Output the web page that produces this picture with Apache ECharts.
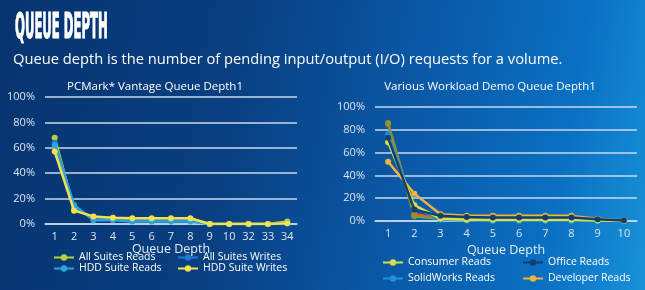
<!DOCTYPE html>
<html><head><meta charset="utf-8">
<script src="https://cdn.jsdelivr.net/npm/echarts@6/dist/echarts.min.js"></script>
<style>
html,body{margin:0;padding:0;}
body{width:645px;height:290px;overflow:hidden;background:linear-gradient(100deg,#073470 0%,#093f80 35%,#0a58a6 62%,#0a70c2 85%,#1892d8 100%);}
#c{width:645px;height:290px;}
</style></head>
<body><div id="c"></div>
<script>
// ---- data ----
const leftCategories = ['1','2','3','4','5','6','7','8','9','10','32','33','34'];
const allSuitesReads  = [68, 12, 5, 4.5, 4, 4, 4, 4, 0, 0, 0, 0, 2];
const allSuitesWrites = [64, 14, 4, 3.5, 3, 3, 3, 3, 0, 0, 0, 0, 0.5];
const hddSuiteReads   = [62, 15, 3, 3, 2, 2, 2, 2, 0, 0, 0, 0, 0.5];
const hddSuiteWrites  = [57, 10.5, 6, 5, 4.5, 4.5, 4.5, 4.5, 0, 0, 0, 0, 0.5];

const rightCategories = ['1','2','3','4','5','6','7','8','9','10'];
const consumerReads   = [69, 14, 2, 1, 1, 1, 1, 1, 0.5, 0];
const officeReads     = [73, 10, 4.5, 3.5, 3, 3, 3, 3, 1.5, 0.5];
const solidWorksReads = [76, 12, 1, 0.5, 0, 0, 0, 0, 0, 0];
const developerReads  = [52, 24, 6, 4.5, 4.5, 4.5, 4.5, 4.5, 2, 0.5];
const otherReadsA     = [86, 4, 2, 2, 2, 2, 2, 2, 1, 0.5];
const otherReadsB     = [85, 6, 2, 1.5, 1.5, 1.5, 1.5, 1.5, 1, 0.5];

const yTicks = [0, 20, 40, 60, 80, 100];

// ---- chart ----
const chart = echarts.init(document.getElementById('c'), null, {renderer:'canvas'});
const axisLabelColor = '#dbe6f3';
const gridLineColor = '#c9d9ee';
function yAxis(idx){
  return {gridIndex:idx, type:'value', min:yTicks[0], max:yTicks[yTicks.length-1], interval:20,
    axisLine:{show:false}, axisTick:{show:false},
    splitLine:{lineStyle:{color:gridLineColor, width:1.5}},
    axisLabel:{color:axisLabelColor, fontSize:11, fontFamily:'Open Sans', formatter:'{value}%', margin:10}};
}
function xAxis(idx, cats, gap){
  return {gridIndex:idx, type:'category', data:cats, boundaryGap:true,
    axisLine:{lineStyle:{color:gridLineColor, width:1.5}}, axisTick:{show:false},
    axisLabel:{color:axisLabelColor, fontSize:11, fontFamily:'Open Sans', margin:7},
    name:'Queue Depth', nameLocation:'middle', nameGap:gap,
    nameTextStyle:{color:'#e6eef8', fontSize:12.5, fontFamily:'Open Sans'}};
}
function line(name, data, color, xi, z){
  return {name, type:'line', data, xAxisIndex:xi, yAxisIndex:xi, color,
    symbol:'circle', symbolSize:6, lineStyle:{width:2.5, color}, itemStyle:{color},
    z: z||2, animation:false};
}
const legendText = {color:'#ffffff', fontSize:10.5, fontFamily:'Open Sans'};
function legend(left, top, gap, items){
  return {orient:'vertical', left, top, padding:0, itemGap:gap, itemWidth:20, itemHeight:8,
    height:40, textStyle:legendText, data:items};
}
chart.setOption({
  backgroundColor:'transparent',
  animation:false,
  graphic:[
    {type:'text', x:15, y:11, scaleX:0.36, scaleY:1.0, style:{x:0, y:0, text:'QUEUE DEPTH', fill:'#ffffff',
      stroke:'#ffffff', lineWidth:1.2,
      font:'bold 36px "DejaVu Sans Condensed"', textVerticalAlign:'top'}},
    {type:'text', x:13, y:60, style:{text:'Queue depth is the number of pending input/output (I/O) requests for a volume.',
      fill:'#ffffff', font:'14.7px "Open Sans"', textVerticalAlign:'middle'}}
  ],
  title:[
    {text:'PCMark* Vantage Queue Depth1', left:155, top:81, padding:0, textAlign:'center',
      textStyle:{color:'#ffffff', fontSize:11.5, fontWeight:'normal', fontFamily:'Open Sans'}},
    {text:'Various Workload Demo Queue Depth1', left:490, top:81, padding:0, textAlign:'center',
      textStyle:{color:'#ffffff', fontSize:11.5, fontWeight:'normal', fontFamily:'Open Sans'}}
  ],
  grid:[
    {left:45, right:348, top:97, bottom:66},
    {left:375, right:8, top:107, bottom:69}
  ],
  xAxis:[xAxis(0, leftCategories, 18), xAxis(1, rightCategories, 23)],
  yAxis:[yAxis(0), yAxis(1)],
  legend:[
    legend(53, 252, 0, ['All Suites Reads','HDD Suite Reads']),
    legend(177, 252, 0, ['All Suites Writes','HDD Suite Writes']),
    legend(382, 257, 5, ['Consumer Reads','SolidWorks Reads']),
    legend(522, 257, 5, ['Office Reads','Developer Reads'])
  ],
  series:[
    line('All Suites Reads', allSuitesReads, '#b6d43a', 0, 2),
    line('All Suites Writes', allSuitesWrites, '#1f7bd2', 0, 3),
    line('HDD Suite Reads', hddSuiteReads, '#2ba3dc', 0, 4),
    line('HDD Suite Writes', hddSuiteWrites, '#f6e04c', 0, 5),
    line('Other A', otherReadsB, '#e85c2a', 1, 2),
    line('Other B', otherReadsA, '#8a9430', 1, 3),
    line('SolidWorks Reads', solidWorksReads, '#1f90d8', 1, 4),
    line('Consumer Reads', consumerReads, '#d6e046', 1, 5),
    line('Developer Reads', developerReads, '#f2b43a', 1, 6),
    line('Office Reads', officeReads, '#133f70', 1, 7)
  ]
});
</script>
</body></html>
